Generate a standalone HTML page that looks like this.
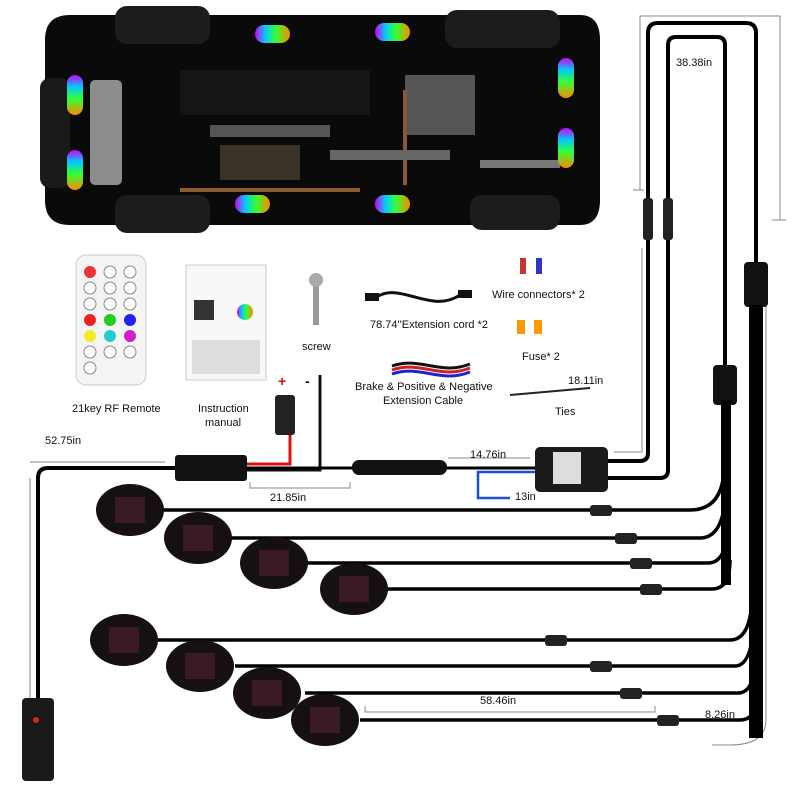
<!DOCTYPE html>
<html><head><style>
body{margin:0;background:#fff}
svg{display:block}
text{font-family:"Liberation Sans",sans-serif;font-size:11px;fill:#111}
</style></head><body>
<svg width="800" height="800" viewBox="0 0 800 800" xmlns="http://www.w3.org/2000/svg">
<defs>
<linearGradient id="rb" x1="0" y1="0" x2="0" y2="1">
<stop offset="0" stop-color="#c0f"/><stop offset=".3" stop-color="#0cf"/><stop offset=".6" stop-color="#3f3"/><stop offset="1" stop-color="#f80"/></linearGradient>
<linearGradient id="rbh" x1="0" y1="0" x2="1" y2="0">
<stop offset="0" stop-color="#c0f"/><stop offset=".3" stop-color="#0cf"/><stop offset=".6" stop-color="#3f3"/><stop offset="1" stop-color="#f80"/></linearGradient>
</defs>
<!-- car -->
<path d="M70 15 H580 Q600 15 600 40 V200 Q600 225 580 225 H70 Q45 225 45 200 V40 Q45 15 70 15Z" fill="#0a0a0a"/>
<rect x="40" y="78" width="30" height="110" rx="10" fill="#1a1a1a"/>
<rect x="115" y="6" width="95" height="38" rx="12" fill="#1c1c1c"/>
<rect x="445" y="10" width="115" height="38" rx="12" fill="#1c1c1c"/>
<rect x="115" y="195" width="95" height="38" rx="12" fill="#1c1c1c"/>
<rect x="470" y="195" width="90" height="35" rx="12" fill="#1c1c1c"/>
<rect x="90" y="80" width="32" height="105" rx="5" fill="#8c8c8c"/>
<rect x="180" y="70" width="190" height="45" fill="#151515"/>
<rect x="210" y="125" width="120" height="12" fill="#555"/>
<rect x="220" y="145" width="80" height="35" fill="#3a3428"/>
<rect x="405" y="75" width="70" height="60" fill="#555"/>
<path d="M180 190 H360" stroke="#8a5a30" stroke-width="4"/>
<path d="M405 90 V185" stroke="#8a5a30" stroke-width="4"/>
<rect x="330" y="150" width="120" height="10" fill="#666"/>
<rect x="480" y="160" width="80" height="8" fill="#777"/>
<g>
<rect x="67" y="75" width="16" height="40" rx="8" fill="url(#rb)"/>
<rect x="67" y="150" width="16" height="40" rx="8" fill="url(#rb)"/>
<rect x="255" y="25" width="35" height="18" rx="9" fill="url(#rbh)"/>
<rect x="375" y="23" width="35" height="18" rx="9" fill="url(#rbh)"/>
<rect x="235" y="195" width="35" height="18" rx="9" fill="url(#rbh)"/>
<rect x="375" y="195" width="35" height="18" rx="9" fill="url(#rbh)"/>
<rect x="558" y="58" width="16" height="40" rx="8" fill="url(#rb)"/>
<rect x="558" y="128" width="16" height="40" rx="8" fill="url(#rb)"/>
</g>
<!-- remote -->
<rect x="76" y="255" width="70" height="130" rx="10" fill="#f4f4f4" stroke="#ccc"/>
<g>
<circle cx="90" cy="272" r="6" fill="#e33"/><circle cx="110" cy="272" r="6" fill="#fff" stroke="#888"/><circle cx="130" cy="272" r="6" fill="#fff" stroke="#888"/>
<circle cx="90" cy="288" r="6" fill="#fff" stroke="#888"/><circle cx="110" cy="288" r="6" fill="#fff" stroke="#888"/><circle cx="130" cy="288" r="6" fill="#fff" stroke="#888"/>
<circle cx="90" cy="304" r="6" fill="#fff" stroke="#888"/><circle cx="110" cy="304" r="6" fill="#fff" stroke="#888"/><circle cx="130" cy="304" r="6" fill="#fff" stroke="#888"/>
<circle cx="90" cy="320" r="6" fill="#e22"/><circle cx="110" cy="320" r="6" fill="#2c2"/><circle cx="130" cy="320" r="6" fill="#22e"/>
<circle cx="90" cy="336" r="6" fill="#ee2"/><circle cx="110" cy="336" r="6" fill="#2cc"/><circle cx="130" cy="336" r="6" fill="#c2c"/>
<circle cx="90" cy="352" r="6" fill="#fff" stroke="#888"/><circle cx="110" cy="352" r="6" fill="#fff" stroke="#888"/><circle cx="130" cy="352" r="6" fill="#fff" stroke="#888"/>
<circle cx="90" cy="368" r="6" fill="#fff" stroke="#888"/>
</g>
<text x="72" y="412">21key RF Remote</text>
<!-- manual -->
<rect x="186" y="265" width="80" height="115" fill="#f8f8f8" stroke="#ccc"/>
<rect x="194" y="300" width="20" height="20" fill="#333"/><circle cx="245" cy="312" r="8" fill="url(#rbh)"/>
<rect x="192" y="340" width="68" height="34" fill="#ddd"/>
<text x="198" y="412">Instruction</text><text x="205" y="426">manual</text>
<!-- screw -->
<rect x="313" y="280" width="6" height="45" fill="#999"/><circle cx="316" cy="280" r="7" fill="#aaa"/>
<text x="302" y="350">screw</text>
<!-- extension cord -->
<path d="M375 298 C400 280 430 315 460 295" stroke="#111" stroke-width="3" fill="none"/>
<rect x="365" y="293" width="14" height="8" fill="#111"/><rect x="458" y="290" width="14" height="8" fill="#111"/>
<text x="370" y="328">78.74''Extension cord *2</text>
<path d="M392 370 C420 360 440 380 470 368" stroke="#c22" stroke-width="3" fill="none"/>
<path d="M392 374 C420 364 440 384 470 372" stroke="#22c" stroke-width="3" fill="none"/>
<path d="M392 366 C420 356 440 376 470 364" stroke="#111" stroke-width="3" fill="none"/>
<text x="355" y="390">Brake &amp; Positive &amp; Negative</text>
<text x="383" y="404">Extension Cable</text>
<rect x="520" y="258" width="6" height="16" fill="#c33"/><rect x="536" y="258" width="6" height="16" fill="#33c"/>
<text x="492" y="298">Wire connectors* 2</text>
<rect x="517" y="320" width="8" height="14" fill="#f90"/><rect x="534" y="320" width="8" height="14" fill="#f90"/>
<text x="522" y="360">Fuse* 2</text>
<path d="M510 395 L590 388" stroke="#222" stroke-width="2"/>
<text x="555" y="415">Ties</text>
<text x="568" y="384">18.11in</text>
<!-- top right wires -->
<g fill="none" stroke="#000" stroke-width="4">
<path d="M605 461 H640 Q648 461 648 453 V33 Q648 23 658 23 H746 Q756 23 756 33 V262"/>
<path d="M605 478 H660 Q668 478 668 470 V45 Q668 37 676 37 H717 Q725 37 725 45 V365"/>
</g>
<g fill="none" stroke="#888" stroke-width="1">
<path d="M640 190 V16 H780 V220 M633 190 H644 M772 220 H786"/>
<path d="M642 248 V452 H614"/>
<path d="M30 478 V748"/><path d="M30 462 H165"/>
<path d="M712 745 H730 Q766 745 766 720 V305"/>
</g>
<rect x="643" y="198" width="10" height="42" rx="3" fill="#222"/><rect x="663" y="198" width="10" height="42" rx="3" fill="#222"/>
<rect x="744" y="262" width="24" height="45" rx="4" fill="#111"/>
<rect x="713" y="365" width="24" height="40" rx="4" fill="#111"/>
<path d="M756 305 V738" stroke="#000" stroke-width="14"/>
<path d="M726 400 V585" stroke="#000" stroke-width="10"/>
<text x="676" y="66">38.38in</text>
<!-- power wiring -->
<path d="M245 464 H290 V395" stroke="#d11" stroke-width="3" fill="none"/>
<path d="M245 470 H320 V375" stroke="#111" stroke-width="3" fill="none"/>
<rect x="275" y="395" width="20" height="40" rx="3" fill="#222"/>
<text x="278" y="386" style="fill:#d11;font-weight:bold;font-size:14px">+</text>
<text x="305" y="386" style="font-weight:bold;font-size:14px">-</text>
<path d="M38 478 Q38 468 48 468 H180" stroke="#000" stroke-width="4" fill="none"/>
<path d="M38 478 V700" stroke="#000" stroke-width="4"/>
<path d="M245 468 H535" stroke="#000" stroke-width="3"/>
<rect x="175" y="455" width="72" height="26" rx="3" fill="#111"/>
<rect x="352" y="460" width="95" height="15" rx="7" fill="#111"/>
<rect x="535" y="447" width="73" height="45" rx="5" fill="#1a1a1a"/>
<rect x="553" y="452" width="28" height="32" fill="#ddd"/>
<path d="M535 472 H478 V498 H510" stroke="#1a4fd0" stroke-width="2.5" fill="none"/>
<path d="M250 482 V488 H350 V482 M448 458 H530" stroke="#888" fill="none"/>
<text x="45" y="444">52.75in</text>
<text x="270" y="501">21.85in</text>
<text x="470" y="458">14.76in</text>
<text x="515" y="500">13in</text>
<!-- switch -->
<rect x="22" y="698" width="32" height="83" rx="4" fill="#1a1a1a"/>
<circle cx="36" cy="720" r="3" fill="#d22"/>
<!-- pods & wires -->
<g fill="none" stroke="#000" stroke-width="3.5">
<path d="M160 510 H690 Q722 510 724 470"/>
<path d="M230 538 H700 Q724 538 726 490"/>
<path d="M305 563 H708 Q728 563 728 520"/>
<path d="M385 589 H712 Q730 589 730 560"/>
<path d="M155 640 H730 Q750 640 752 600"/>
<path d="M235 666 H735 Q752 666 754 620"/>
<path d="M305 693 H738 Q756 693 756 650"/>
<path d="M360 720 H740 Q758 720 758 690"/>
</g>
<g fill="#222">
<rect x="590" y="505" width="22" height="11" rx="3"/><rect x="615" y="533" width="22" height="11" rx="3"/>
<rect x="630" y="558" width="22" height="11" rx="3"/><rect x="640" y="584" width="22" height="11" rx="3"/>
<rect x="545" y="635" width="22" height="11" rx="3"/><rect x="590" y="661" width="22" height="11" rx="3"/>
<rect x="620" y="688" width="22" height="11" rx="3"/><rect x="657" y="715" width="22" height="11" rx="3"/>
</g>
<g>
<g transform="translate(130,510)"><ellipse rx="34" ry="26" fill="#161010"/><rect x="-15" y="-13" width="30" height="26" fill="#3a1a24"/></g>
<g transform="translate(198,538)"><ellipse rx="34" ry="26" fill="#161010"/><rect x="-15" y="-13" width="30" height="26" fill="#3a1a24"/></g>
<g transform="translate(274,563)"><ellipse rx="34" ry="26" fill="#161010"/><rect x="-15" y="-13" width="30" height="26" fill="#3a1a24"/></g>
<g transform="translate(354,589)"><ellipse rx="34" ry="26" fill="#161010"/><rect x="-15" y="-13" width="30" height="26" fill="#3a1a24"/></g>
<g transform="translate(124,640)"><ellipse rx="34" ry="26" fill="#161010"/><rect x="-15" y="-13" width="30" height="26" fill="#3a1a24"/></g>
<g transform="translate(200,666)"><ellipse rx="34" ry="26" fill="#161010"/><rect x="-15" y="-13" width="30" height="26" fill="#3a1a24"/></g>
<g transform="translate(267,693)"><ellipse rx="34" ry="26" fill="#161010"/><rect x="-15" y="-13" width="30" height="26" fill="#3a1a24"/></g>
<g transform="translate(325,720)"><ellipse rx="34" ry="26" fill="#161010"/><rect x="-15" y="-13" width="30" height="26" fill="#3a1a24"/></g>
</g>
<path d="M365 720 V726 H655 V720" stroke="#888" fill="none" transform="translate(0,-14)"/>
<text x="480" y="704">58.46in</text>
<text x="705" y="718">8.26in</text>
</svg>
</body></html>
